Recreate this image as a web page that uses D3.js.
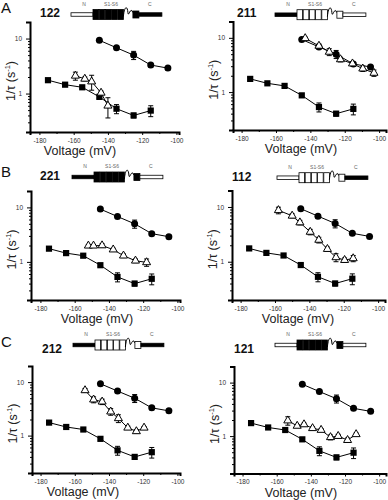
<!DOCTYPE html>
<html>
<head>
<meta charset="utf-8">
<script src="https://cdn.jsdelivr.net/npm/d3@7"></script>
<style>
  body { margin: 0; background: #fff; }
  svg { font-family: "Liberation Sans", Arial, sans-serif; }
  .tick text { font-size: 6.5px; fill: #333; }
</style>
</head>
<body>
<div id="fig"></div>
<script>
// wild-type style reference curves, same in every panel
const circleV = [-145, -135, -125, -115, -105];
const circleR = [9.3, 6.8, 5.0, 3.3, 2.9];
const circleE = [0.4, 0.4, 0.85, 0.25, 0.2];

const squareV = [-175, -165, -155, -145, -135, -125, -115];
const squareR = [1.75, 1.45, 1.3, 0.87, 0.53, 0.4, 0.49];
const squareE = [0.1, 0.06, 0.06, 0.05, 0.1, 0.04, 0.11];

// chimera data (open triangles)
const v122 = [-159, -153.5, -149.5, -144, -140];
const r122 = [2.1, 1.85, 1.65, 1.03, 0.6];
const e122 = [0.35, 0.15, 0.5, 0.08, 0.24];

const v211 = [-143, -135, -129, -122.5, -115.5, -109.5, -103];
const r211 = [9.8, 7.1, 5.5, 4.0, 3.35, 2.7, 2.25];
const e211 = [0.5, 0.6, 0.8, 0.4, 0.3, 0.3, 0.3];

const v221 = [-152, -149, -144, -137.5, -131.5, -124.5, -118];
const r221 = [1.98, 1.98, 2.0, 1.68, 1.3, 1.05, 0.98];
const e221 = [0.1, 0.1, 0.15, 0.1, 0.1, 0.08, 0.15];

const v112 = [-158, -150, -145.5, -139.5, -134.5, -129.5, -124.5, -119.5, -114.5];
const r112 = [8.7, 6.9, 5.2, 3.5, 2.5, 1.7, 1.2, 1.07, 1.15];
const e112 = [1.2, 0.6, 0.5, 0.4, 0.3, 0.15, 0.2, 0.1, 0.15];

const v212 = [-154, -149, -144, -139, -134.5, -129, -124, -119.5];
const r212 = [7.0, 4.7, 4.3, 2.8, 2.1, 1.4, 1.2, 1.4];
const e212 = [0.6, 0.6, 0.5, 0.4, 0.35, 0.1, 0.1, 0.08];

const v121 = [-153.5, -148, -144, -139, -134, -128.5, -124, -118.5, -113.5];
const r121 = [1.95, 1.55, 1.65, 1.4, 1.3, 0.95, 1.0, 0.84, 1.08];
const e121 = [0.35, 0.1, 0.1, 0.1, 0.08, 0.1, 0.08, 0.08, 0.06];

const codes = ["122", "211", "221", "112", "212", "121"];
const letters = ["A", "", "B", "", "C", ""];
const triV = [v122, v211, v221, v112, v212, v121];
const triR = [r122, r211, r221, r112, r212, r121];
const triE = [e122, e211, e221, e112, e212, e121];

const xTicks = [-180, -160, -140, -120, -100];
const xMinor = [-170, -150, -130, -110];
const yTicks = [1, 10];
const yMinor = [0.2, 0.3, 0.4, 0.5, 0.6, 0.7, 0.8, 0.9, 2, 3, 4, 5, 6, 7, 8, 9, 20];

// layout of each panel (pixels)
const layout = [
  {left: 30, right: 179, top: 22, bottom: 132, x0: -185.5, x1: -98.5, labX: 80, codeX: 40, codeY: 17, dX: 71, dY: 14.5, letY: 13},
  {left: 233, right: 386, top: 21.5, bottom: 130, x0: -185, x1: -96, labX: 301, codeX: 237, codeY: 17, dX: 275, dY: 14.7},
  {left: 31, right: 180, top: 191, bottom: 300, x0: -185.5, x1: -98.5, labX: 97, codeX: 40, codeY: 180, dX: 72, dY: 177, letY: 177},
  {left: 232, right: 385, top: 190.5, bottom: 300, x0: -185, x1: -96, labX: 298, codeX: 232, codeY: 181, dX: 277, dY: 177.7},
  {left: 32, right: 180, top: 366, bottom: 473, x0: -185, x1: -98.5, labX: 83, codeX: 42, codeY: 353, dX: 73, dY: 345, letY: 347},
  {left: 234, right: 386, top: 366.5, bottom: 473.5, x0: -185, x1: -96, labX: 301, codeX: 234, codeY: 353, dX: 275, dY: 345}
];

const svg = d3.select("#fig").append("svg")
  .attr("width", 388)
  .attr("height", 500);

// draws the little channel construct: N bar, S1-S5 boxes, pore loop, S6 box, C bar
function drawConstruct(g, code, x0, yc) {
  const fillFor = c => c === "2" ? "#000" : "#fff";
  const nFill = fillFor(code[0]), coreFill = fillFor(code[1]), cFill = fillFor(code[2]);
  const barH = 3.5, boxH = 10, boxW = 6.2;

  g.append("rect").attr("x", x0).attr("y", yc - barH / 2)
    .attr("width", 22).attr("height", barH)
    .attr("fill", nFill).attr("stroke", "#000").attr("stroke-width", 0.8);

  for (let i = 0; i < 5; i++) {
    g.append("rect").attr("x", x0 + 22 + i * boxW).attr("y", yc - boxH / 2)
      .attr("width", boxW - 0.6).attr("height", boxH)
      .attr("fill", coreFill).attr("stroke", "#000").attr("stroke-width", 0.8);
  }
  const lx = x0 + 22 + 5 * boxW - 0.6;
  g.append("path")
    .attr("d", "M" + lx + "," + (yc + 2) +
      " C" + (lx + 1) + "," + (yc - 9) + " " + (lx + 4) + "," + (yc - 9) + " " + (lx + 4.5) + "," + (yc - 2) +
      " C" + (lx + 5) + "," + (yc + 4) + " " + (lx + 7) + "," + (yc - 9) + " " + (lx + 9.5) + "," + (yc - 2))
    .attr("fill", "none").attr("stroke", "#000").attr("stroke-width", 1);
  const bx = lx + 9.5;
  g.append("rect").attr("x", bx).attr("y", yc - boxH / 2 + 1.5)
    .attr("width", 6).attr("height", boxH - 3)
    .attr("fill", coreFill).attr("stroke", "#000").attr("stroke-width", 0.8);
  g.append("rect").attr("x", bx + 6).attr("y", yc - barH / 2)
    .attr("width", 23).attr("height", barH)
    .attr("fill", cFill).attr("stroke", "#000").attr("stroke-width", 0.8);

  const lab = [["N", x0 + 13], ["S1-S6", x0 + 40], ["C", bx + 17]];
  lab.forEach(l => {
    g.append("text").attr("x", l[1]).attr("y", yc - 9)
      .attr("text-anchor", "middle").attr("font-size", 5).attr("fill", "#666")
      .text(l[0]);
  });
}

function errBars(g, V, R, E, x, y) {
  const eb = g.append("g").attr("stroke", "#000").attr("stroke-width", 1);
  V.forEach((v, i) => {
    const cx = x(v), y1 = y(R[i] + E[i]), y2 = y(Math.max(R[i] - E[i], 0.21));
    eb.append("line").attr("x1", cx).attr("x2", cx).attr("y1", y1).attr("y2", y2);
    eb.append("line").attr("x1", cx - 2.5).attr("x2", cx + 2.5).attr("y1", y1).attr("y2", y1);
    eb.append("line").attr("x1", cx - 2.5).attr("x2", cx + 2.5).attr("y1", y2).attr("y2", y2);
  });
}

layout.forEach((p, k) => {
  const g = svg.append("g");
  const x = d3.scaleLinear().domain([p.x0, p.x1]).range([p.left, p.right]);
  const y = d3.scaleLog().domain([0.2, 20]).range([p.bottom, p.top]);

  // axes
  g.append("g").attr("transform", "translate(0," + p.bottom + ")")
    .call(d3.axisBottom(x).tickValues(xTicks).tickSize(3).tickPadding(3).tickFormat(d => String(d)));
  g.append("g").attr("transform", "translate(0," + p.bottom + ")")
    .call(d3.axisBottom(x).tickValues(xMinor).tickSize(2).tickFormat(""))
    .select(".domain").remove();
  g.append("g").attr("transform", "translate(" + p.left + ",0)")
    .call(d3.axisLeft(y).tickValues(yTicks).tickSize(4).tickPadding(4).tickFormat(d3.format("d")));
  g.append("g").attr("transform", "translate(" + p.left + ",0)")
    .call(d3.axisLeft(y).tickValues(yMinor).tickSize(2).tickFormat(""))
    .select(".domain").remove();
  g.selectAll(".domain").attr("stroke-width", 2);
  g.selectAll(".tick line").attr("stroke-width", 1);

  // axis titles
  g.append("text").attr("x", p.labX).attr("y", p.bottom + 23)
    .attr("text-anchor", "middle").attr("font-size", 12.5).attr("fill", "#222")
    .text("Voltage (mV)");
  const yt = g.append("text")
    .attr("transform", "translate(" + (p.left - 15) + "," + ((p.top + p.bottom) / 2 + 4) + ") rotate(-90)")
    .attr("text-anchor", "middle").attr("font-size", 12.5).attr("fill", "#222");
  yt.append("tspan").text("1/τ (s");
  yt.append("tspan").attr("font-size", 7.5).attr("dy", -5).text("-1");
  yt.append("tspan").attr("dy", 5).text(")");

  // header
  if (letters[k]) {
    g.append("text").attr("x", 1).attr("y", p.letY)
      .attr("font-size", 15).attr("fill", "#111").text(letters[k]);
  }
  g.append("text").attr("x", p.codeX).attr("y", p.codeY)
    .attr("font-size", 12).attr("font-weight", "bold").attr("fill", "#111")
    .text(codes[k]);
  drawConstruct(g.append("g"), codes[k], p.dX, p.dY);

  const line = d3.line().x(d => x(d[0])).y(d => y(d[1]));

  // squares
  const sq = d3.zip(squareV, squareR);
  g.append("path").datum(sq).attr("d", line).attr("fill", "none").attr("stroke", "#000").attr("stroke-width", 1);
  errBars(g, squareV, squareR, squareE, x, y);
  g.selectAll(".sq").data(sq).enter().append("rect")
    .attr("x", d => x(d[0]) - 3.1).attr("y", d => y(d[1]) - 3.1)
    .attr("width", 6.2).attr("height", 6.2).attr("fill", "#000");

  // circles
  const ci = d3.zip(circleV, circleR);
  g.append("path").datum(ci).attr("d", line).attr("fill", "none").attr("stroke", "#000").attr("stroke-width", 1);
  errBars(g, circleV, circleR, circleE, x, y);
  g.selectAll(".ci").data(ci).enter().append("circle")
    .attr("cx", d => x(d[0])).attr("cy", d => y(d[1]))
    .attr("r", 3.5).attr("fill", "#000");

  // triangles
  const tr = d3.zip(triV[k], triR[k]);
  g.append("path").datum(tr).attr("d", line).attr("fill", "none").attr("stroke", "#000").attr("stroke-width", 1);
  errBars(g, triV[k], triR[k], triE[k], x, y);
  g.selectAll(".tr").data(tr).enter().append("path")
    .attr("transform", d => "translate(" + x(d[0]) + "," + y(d[1]) + ")")
    .attr("d", d3.symbol(d3.symbolTriangle, 28))
    .attr("fill", "#fff").attr("stroke", "#000").attr("stroke-width", 1);
});
</script>
</body>
</html>
